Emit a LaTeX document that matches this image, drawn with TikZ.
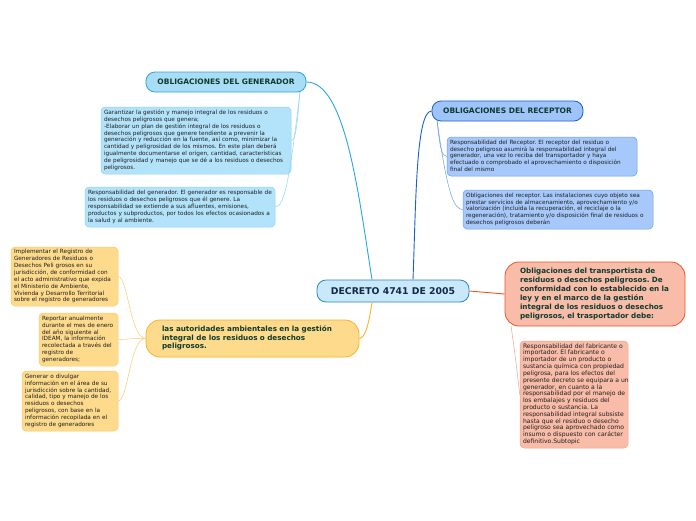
\documentclass[tikz,border=0pt]{standalone}
\usepackage{fontspec}
\setmainfont{DejaVu Sans}
\frenchspacing
\definecolor{genfill}{HTML}{B3E3FA}
\definecolor{genhead}{HTML}{A9DDF6}
\definecolor{genline}{HTML}{2AA6E0}
\definecolor{genthin}{HTML}{8ED3F2}
\definecolor{recfill}{HTML}{A6C8FA}
\definecolor{rechead}{HTML}{9EC4FA}
\definecolor{recline}{HTML}{1B5FCC}
\definecolor{recthin}{HTML}{6E9EE8}
\definecolor{trfill}{HTML}{F8BCA8}
\definecolor{trline}{HTML}{E9552B}
\definecolor{trthin}{HTML}{F2A48C}
\definecolor{aufill}{HTML}{FDDA8C}
\definecolor{auline}{HTML}{F6B526}
\definecolor{authin}{HTML}{F9CC6E}
\definecolor{cenfill}{HTML}{C9E9FA}
\definecolor{cenline}{HTML}{2A86C8}
\definecolor{headtext}{HTML}{0E3B2E}
\definecolor{centext}{HTML}{10284A}
\newcommand{\mylines}[1]{\begin{tabular}{@{}l@{}}#1\end{tabular}}
\tikzset{
  box/.style={align=left, inner xsep=3pt, inner ysep=1pt, rounded corners=4pt, line width=0.5pt,
    font=\fontsize{5.75}{6.85}\selectfont, text=black!88},
  headbox/.style={align=left, inner sep=2pt, font=\fontsize{7.5}{9}\selectfont\bfseries, text=headtext, line width=0.8pt},
}
\begin{document}
\begin{tikzpicture}[x=1pt,y=-1pt]
\useasboundingbox (0,0) rectangle (696,520);
\fill[white] (0,0) rectangle (696,520);

% center
\node[draw=cenline, fill=cenfill, rounded corners=9pt, line width=0.8pt, minimum width=152pt, minimum height=22pt,
  font=\fontsize{9.3}{11}\selectfont\bfseries, text=centext] (c) at (393,291) {DECRETO 4741 DE 2005};

% generador
\node[headbox, draw=genline, fill=genhead, rounded corners=9pt, minimum width=160pt, minimum height=20pt] (gh) at (226,82) {OBLIGACIONES DEL GENERADOR};
\node[box, draw=genthin, fill=genfill, text width=184pt, minimum height=67pt] (g1) at (196,140.5) {\mylines{Garantizar la gestión y manejo integral de los residuos o\\desechos peligrosos que genera;\\-Elaborar un plan de gestión integral de los residuos o\\desechos peligrosos que genere tendiente a prevenir la\\generación y reducción en la fuente, así como, minimizar la\\cantidad y peligrosidad de los mismos. En este plan deberá\\igualmente documentarse el origen, cantidad, características\\de peligrosidad y manejo que se dé a los residuos o desechos\\peligrosos.}};
\node[box, draw=genthin, fill=genfill, text width=184pt, minimum height=40pt] (g2) at (180,207) {\mylines{Responsabilidad del generador. El generador es responsable de\\los residuos o desechos peligrosos que él genere. La\\responsabilidad se extiende a sus afluentes, emisiones,\\productos y subproductos, por todos los efectos ocasionados a\\la salud y al ambiente.}};

% receptor
\node[headbox, draw=recline, fill=rechead, rounded corners=9pt, minimum width=151pt, minimum height=20pt] (rh) at (507.5,111) {OBLIGACIONES DEL RECEPTOR};
\node[box, draw=recthin, fill=recfill, text width=184pt, minimum height=39pt] (r1) at (542,156.5) {\mylines{Responsabilidad del Receptor. El receptor del residuo o\\desecho peligroso asumirá la responsabilidad integral del\\generador, una vez lo reciba del transportador y haya\\efectuado o comprobado el aprovechamiento o disposición\\final del mismo}};
\node[box, draw=recthin, fill=recfill, text width=184pt, minimum height=39pt] (r2) at (558,209.5) {\mylines{Obligaciones del receptor. Las instalaciones cuyo objeto sea\\prestar servicios de almacenamiento, aprovechamiento y/o\\valorización (incluida la recuperación, el reciclaje o la\\regeneración), tratamiento y/o disposición final de residuos o\\desechos peligrosos deberán}};

% transportista
\node[headbox, draw=trline, fill=trfill, rounded corners=14pt, text width=172pt, inner xsep=4pt, minimum height=64pt,
  font=\fontsize{7.2}{9}\selectfont\bfseries] (t) at (595,294) {\hspace*{11pt}\mylines{Obligaciones del transportista de\\residuos o desechos peligrosos. De\\conformidad con lo establecido en la\\ley y en el marco de la gestión\\integral de los residuos o desechos\\peligrosos, el trasportador debe:}};
\node[box, draw=trthin, fill=trfill, text width=102pt, minimum height=107pt, font=\fontsize{6.1}{6.8}\selectfont] (t1) at (574,394.5) {\mylines{Responsabilidad del fabricante o\\importador. El fabricante o\\importador de un producto o\\sustancia química con propiedad\\peligrosa, para los efectos del\\presente decreto se equipara a un\\generador, en cuanto a la\\responsabilidad por el manejo de\\los embalajes y residuos del\\producto o sustancia. La\\responsabilidad integral subsiste\\hasta que el residuo o desecho\\peligroso sea aprovechado como\\insumo o dispuesto con carácter\\definitivo.Subtopic}};

% autoridades
\node[headbox, draw=auline, fill=aufill, rounded corners=14pt, text width=205pt, inner xsep=4pt, minimum height=37pt,
  font=\fontsize{7.2}{8.7}\selectfont\bfseries] (a) at (252.5,338.5) {\hspace*{12pt}\mylines{las autoridades ambientales en la gestión\\integral de los residuos o desechos\\peligrosos.}};
\node[box, draw=authin, fill=aufill, text width=101pt, minimum height=59pt] (a1) at (64.5,276.5) {\mylines{Implementar el Registro de\\Generadores de Residuos o\\Desechos Peli grosos en su\\jurisdicción, de conformidad con\\el acto administrativo que expida\\el Ministerio de Ambiente,\\Vivienda y Desarrollo Territorial\\sobre el registro de generadores}};
\node[box, draw=authin, fill=aufill, text width=73pt, minimum height=53pt] (a2) at (78.5,339.5) {\mylines{Reportar anualmente\\durante el mes de enero\\del año siguiente al\\IDEAM, la información\\recolectada a través del\\registro de\\generadores;}};
\node[box, draw=authin, fill=aufill, text width=90pt, minimum height=60pt] (a3) at (70,401) {\mylines{Generar o divulgar\\información en el área de su\\jurisdicción sobre la cantidad,\\calidad, tipo y manejo de los\\residuos o desechos\\peligrosos, con base en la\\información recopilada en el\\registro de generadores}};

% main connectors
\draw[genline, line width=0.9pt] ([xshift=-21pt]c.north) .. controls (358,190) and (345,82) .. (gh.east);
\draw[recline, line width=0.9pt] ([xshift=20pt]c.north) .. controls (416,200) and (416,111) .. (rh.west);
\draw[trline, line width=0.9pt] (c.east) -- (t.west);
\draw[auline, line width=0.9pt] ([xshift=-21pt]c.south) .. controls (368,330) and (364,338) .. (a.east);

% thin connectors
\coordinate (gs) at (300,92);
\draw[genthin, line width=0.5pt] (gs) .. controls (297,125) and (296,140) .. (g1.east);
\draw[genthin, line width=0.5pt] (gs) .. controls (290,175) and (285,207) .. (g2.east);
\coordinate (rs) at (437,120);
\draw[recthin, line width=0.5pt] (rs) .. controls (440,150) and (442,156) .. (r1.west);
\draw[recthin, line width=0.5pt] (rs) .. controls (448,200) and (455,209) .. (r2.west);
\coordinate (ts) at (511,326);
\draw[trthin, line width=0.5pt] (ts) .. controls (516,360) and (518,380) .. (t1.west);
\draw[authin, line width=0.5pt] (a.west) .. controls (130,338) and (128,277) .. (a1.east);
\draw[authin, line width=0.5pt] (a.west) .. controls (130,338) and (125,340) .. (a2.east);
\draw[authin, line width=0.5pt] (a.west) .. controls (130,338) and (128,401) .. (a3.east);
\end{tikzpicture}
\end{document}
